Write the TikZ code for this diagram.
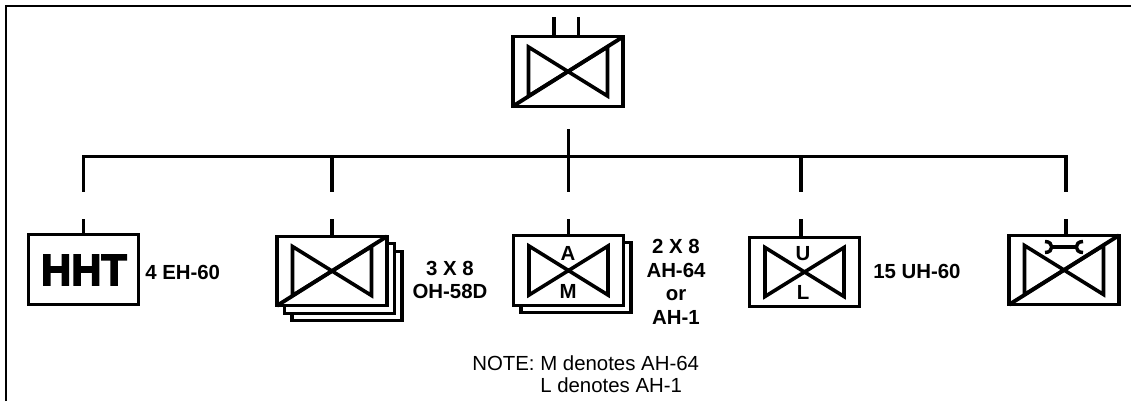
\documentclass[tikz,border=0pt]{standalone}
\usepackage{fontspec}
\setmainfont{Liberation Sans}
\newfontfamily\hhtfont{Liberation Sans}[BoldFeatures={FakeBold=3.5}]
\usetikzlibrary{calc}
\tikzset{
  every node/.style={font=\bfseries\fontsize{15.3}{17.6}\selectfont,inner sep=0pt},
  frameline/.style={line width=1.6pt},
  link/.style={line width=2.6pt},
  unitbox/.style={draw,fill=white,line width=2.4pt,outer sep=0pt,minimum width=82.5pt,minimum height=52pt},
  tieline/.style={line width=2.7pt,miter limit=10},
  wrench/.style={line width=2.6pt},
  countlabel/.style={align=center},
  notelabel/.style={align=left,font=\fontsize{15.3}{16.6}\selectfont}}
\newcommand{\tieglyph}[1]{%
\begin{scope}[shift={(#1.center)}]
\draw[tieline] (-39.5,-24.5)--(39.5,24.5)--(39.5,-24.5)--(-39.5,24.5)--cycle;
\end{scope}}
\newcommand{\slashglyph}[1]{\draw[line width=2.9pt] (#1.south west)--(#1.north east);}

\begin{document}
\begin{tikzpicture}[x=.75pt,y=-.75pt]
\useasboundingbox (0,0) rectangle (1131,401);
\draw[frameline] (6,401)--(6,6)--(1131,6);
\coordinate (hqa) at (554,17);
\coordinate (hqb) at (578.5,17);
\coordinate (stem) at (568.5,129);
\coordinate (busleft) at (83.5,156.5);
\coordinate (busright) at (1066,156.5);
\coordinate (droptip) at (0,192);
\coordinate (stubtop) at (0,219);
% stacked companies behind
\node[unitbox] (scoutc) at (347,286) {};
\node[unitbox] (scoutb) at (339.5,278.5) {};
\node[unitbox] (attackb) at (576,277.5) {};
% units
\node[unitbox] (hq) at (568,71.5) {};
\node[unitbox] (hht) at (83.5,269.5) {};
\node[unitbox] (scout) at (332,271) {};
\node[unitbox] (attack) at (568.5,270.5) {};
\node[unitbox] (assault) at (804.5,272) {};
\node[unitbox] (avim) at (1064,270) {};
\foreach \n in {hq,scout,avim}{\tieglyph{\n}\slashglyph{\n}}
\foreach \n in {attack,assault}{\tieglyph{\n}}
% connectors
\draw[link] (hqa)--(hqa |- hq.north);
\draw[link] (hqb)--(hqb |- hq.north);
\draw[link] (stem)--(stem |- droptip);
\draw[link,line cap=rect] (busleft)--(busright);
\foreach \n/\x in {hht/83.5,scout/332,attack/568.5,assault/801,avim/1066}{
\coordinate (drop\n) at (\x,0);
\draw[link] (drop\n |- \n.north)--(drop\n |- stubtop);}
\foreach \n in {hht,scout,assault,avim}{
\draw[link] (drop\n |- busleft)--(drop\n |- droptip);}
% wrench
\draw[wrench] (1045,241.5) .. controls (1054,241.5) and (1054,252.5) .. (1045,252.5);
\draw[wrench] (1083,241.5) .. controls (1074,241.5) and (1074,252.5) .. (1083,252.5);
\draw[wrench] (1051,247)--(1077,247);
% labels
\node[font=\hhtfont\bfseries\fontsize{33}{33}\selectfont,xscale=.95,transform shape] (hhtname) at (84,270) {HHT};
\node (letterA) at (568,253) {A};
\node (letterM) at (568,291) {M};
\node (letterU) at (803,254) {U};
\node (letterL) at (803,292) {L};
\node[anchor=west] (hhtcount) at (145,272) {4 EH-60};
\node[countlabel] (scoutcount) at (450,280) {3 X 8\\OH-58D};
\node[countlabel] (attackcount) at (676,282) {2 X 8\\AH-64\\or\\AH-1};
\node[anchor=west] (assaultcount) at (873,271) {15 UH-60};
\node[notelabel,anchor=west] (note) at (472,374) {NOTE: M denotes AH-64\\\phantom{NOTE: }L denotes AH-1};
\end{tikzpicture}
\end{document}
